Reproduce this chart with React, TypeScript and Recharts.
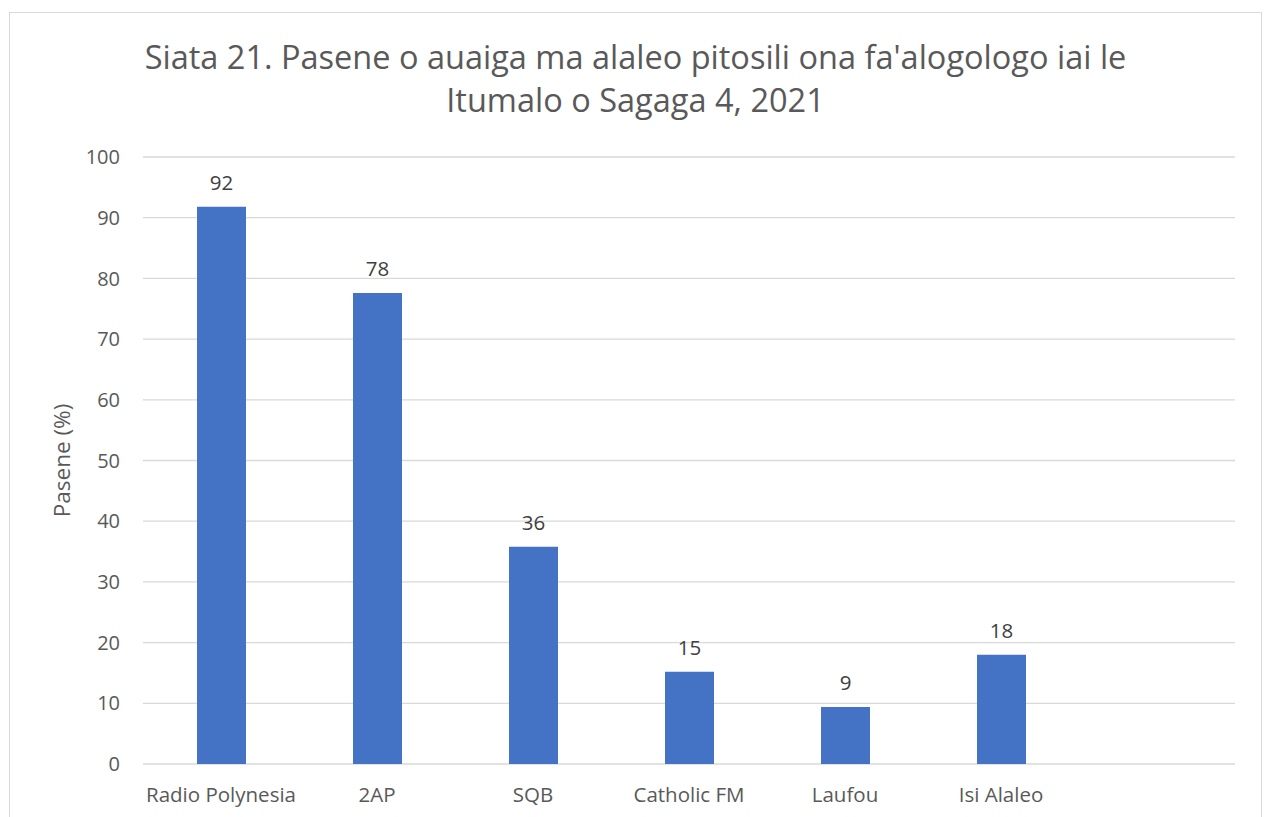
import React from "react";
import { BarChart, Bar, XAxis, YAxis, CartesianGrid, LabelList, Label } from "recharts";

const categories = ["Radio Polynesia", "2AP", "SQB", "Catholic FM", "Laufou", "Isi Alaleo", ""];
const values: (number | null)[] = [91.8, 77.6, 35.8, 15.2, 9.4, 18.0, null];
const yTicks = [0, 10, 20, 30, 40, 50, 60, 70, 80, 90, 100];
const titleLines = [
  "Siata 21. Pasene o auaiga ma alaleo pitosili ona fa'alogologo iai le",
  "Itumalo o Sagaga 4, 2021",
];
const yLabel = "Pasene (%)";

const data = categories.map((c, i) => ({ name: c, value: values[i] }));

const FONT = "'Open Sans', sans-serif";

export default function App() {
  return (
    <div
      style={{
        position: "absolute",
        left: 9,
        top: 12,
        width: 1253,
        height: 820,
        border: "1px solid #d9d9d9",
        boxSizing: "border-box",
        background: "#fff",
        fontFamily: FONT,
      }}
    >
      <div
        style={{
          position: "absolute",
          left: 0,
          top: 22,
          width: 1251,
          textAlign: "center",
          color: "#595959",
          fontSize: 32.5,
          lineHeight: "43px",
        }}
      >
        {titleLines.map((t, i) => (
          <div key={i} style={{ whiteSpace: "nowrap" }}>{t}</div>
        ))}
      </div>
      <div style={{ position: "absolute", left: 0, top: 0 }}>
        <BarChart
          width={1251}
          height={818}
          data={data}
          margin={{ top: 144, right: 26, left: 0, bottom: 0 }}
          barCategoryGap={0}
        >
          <CartesianGrid vertical={false} stroke="#d9d9d9" strokeWidth={1.3} />
          <XAxis
            dataKey="name"
            axisLine={false}
            tickLine={false}
            height={67}
            tickMargin={17}
            interval={0}
            tick={{ fill: "#595959", fontSize: 20.5, fontFamily: FONT }}
          />
          <YAxis
            width={133}
            domain={[0, 100]}
            ticks={yTicks}
            axisLine={false}
            tickLine={false}
            tickSize={0}
            tickMargin={23}
            tick={{ fill: "#595959", fontSize: 20, fontFamily: FONT }}
          >
            <Label
              value={yLabel}
              angle={-90}
              position="center"
              dx={-14}
              fill="#595959"
              fontSize={22.5}
              fontFamily={FONT}
              style={{ fontSize: 22.5 }}
            />
          </YAxis>
          <Bar dataKey="value" fill="#4472c4" barSize={49} isAnimationActive={false}>
            <LabelList
              dataKey="value"
              position="top"
              offset={17}
              fill="#404040"
              fontSize={20.5}
              fontFamily={FONT}
              formatter={(v: any) => (v === null || v === undefined ? "" : Math.round(Number(v)))}
            />
          </Bar>
        </BarChart>
      </div>
    </div>
  );
}
